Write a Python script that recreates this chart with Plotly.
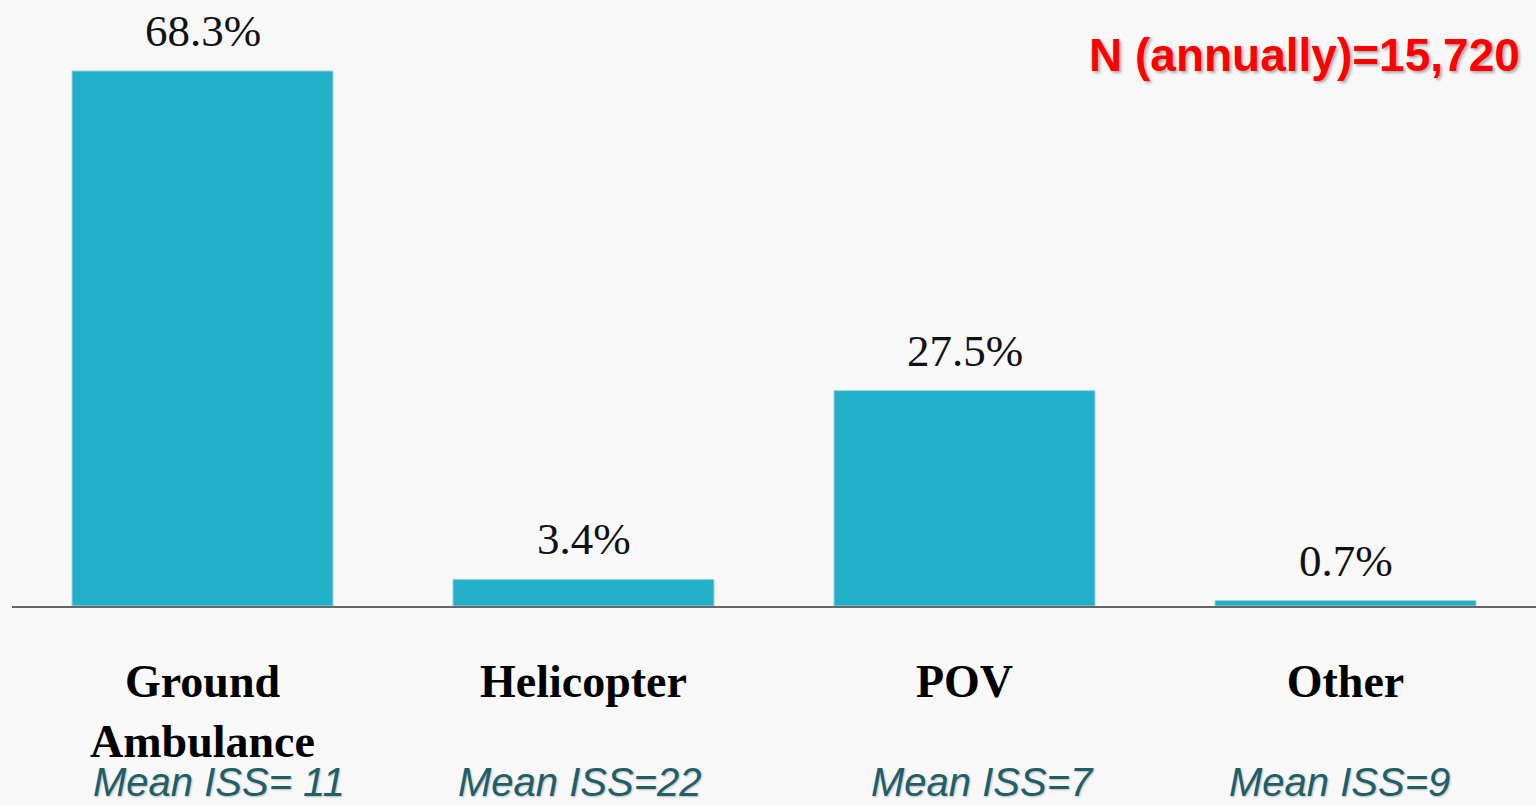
import plotly.graph_objects as go

categories = ["Ground Ambulance", "Helicopter", "POV", "Other"]
tick_labels = ["Ground<br>Ambulance", "Helicopter", "POV", "Other"]
percent_values = [68.3, 3.4, 27.5, 0.7]
value_labels = ["68.3%", "3.4%", "27.5%", "0.7%"]
mean_iss_labels = ["Mean ISS= 11", "Mean ISS=22", "Mean ISS=7", "Mean ISS=9"]
mean_iss_shift = [16, -4, 18, -6]
n_label = "N (annually)=15,720"

BAR = "#22AFC8"
SERIF = "Liberation Serif, DejaVu Serif, serif"
SANS = "Liberation Sans, Arial, sans-serif"

fig = go.Figure()
fig.add_trace(go.Bar(
    x=categories, y=percent_values,
    marker=dict(color=BAR, line=dict(color="#9fd3dd", width=1)),
    width=0.685, hoverinfo="x+y", showlegend=False,
))

annotations = []
for c, v, lab in zip(categories, percent_values, value_labels):
    annotations.append(dict(
        x=c, y=v, xref="x", yref="y", text=lab, showarrow=False,
        yanchor="bottom", yshift=13,
        font=dict(family=SERIF, size=45, color="#111111"),
    ))
for c, lab, sh in zip(categories, mean_iss_labels, mean_iss_shift):
    annotations.append(dict(
        x=c, y=-0.29, xref="x", yref="paper", text="<i>" + lab + "</i>",
        showarrow=False, yanchor="middle", xshift=sh,
        font=dict(family=SANS, size=40, color="#1E5F68", shadow="1px 1px 2px #bbbbbb"),
    ))
annotations.append(dict(
    x=1.0, y=1.0, xref="paper", yref="paper", text="<b>" + n_label + "</b>",
    showarrow=False, xanchor="right", yanchor="middle", xshift=-14, yshift=-55,
    font=dict(family=SANS, size=46, color="#FF0000", shadow="2px 2px 3px #aaaaaa"),
))

fig.update_layout(
    width=1536, height=805,
    margin=dict(l=12, r=0, t=0, b=199),
    paper_bgcolor="#f8f8f8", plot_bgcolor="rgba(0,0,0,0)",
    xaxis=dict(
        tickmode="array", tickvals=categories, ticktext=tick_labels,
        tickfont=dict(family=SERIF, size=46, color="#000000", weight="bold"),
        showline=True, linecolor="#666666", linewidth=2,
        showgrid=False, zeroline=False, ticks="", ticklabelstandoff=34,
    ),
    yaxis=dict(range=[0, 77.36], visible=False, showgrid=False, zeroline=False),
    annotations=annotations,
)

fig.write_html(
    "out.html",
    config={"displayModeBar": False},
    post_script="document.body.style.margin='0';document.body.style.overflow='hidden';",
)
